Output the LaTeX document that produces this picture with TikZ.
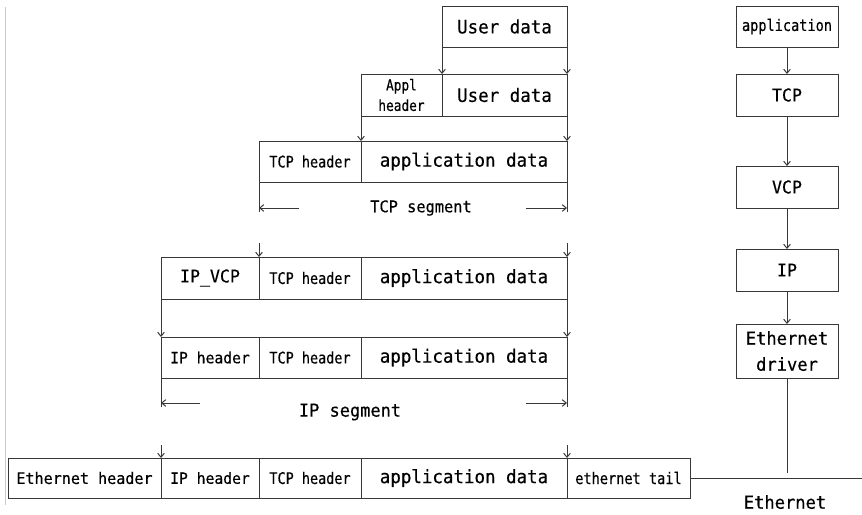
\documentclass[tikz,border=0pt]{standalone}
\usepackage{fontspec}
\usetikzlibrary{arrows.meta}
\newfontfamily\wfam[FakeStretch=0.95,FakeBold=0.4]{DejaVu Sans Mono}
\newfontfamily\nfam[FakeStretch=0.85,FakeBold=0.4]{DejaVu Sans Mono}
\tikzset{
  ln/.style={draw=black!78, line width=0.75pt},
  arr/.style={ln, -{Straight Barb[length=3pt,width=5pt]}},
  box/.style 2 args={ln, rectangle, inner sep=0pt, outer sep=0pt,
    minimum width=#1*0.75pt, minimum height=#2*0.75pt, text=black},
  wf/.style={font=\wfam\fontsize{#1}{#1}\selectfont},
  nf/.style={font=\nfam\fontsize{#1}{#1}\selectfont},
}
\begin{document}
\begin{tikzpicture}[x=0.75pt,y=-0.75pt]
\useasboundingbox (0,0) rectangle (862,514);
% faint left border
\draw[black!20, line width=0.75pt] (5,7) -- (5,505);

% ---- Row 1
\node[box={125}{41}, wf=13.8] (ud1) at (504.5,26.5) {User data};
% ---- Row 2
\node[box={81}{42}, nf=11.3, align=center] (ah) at (401.5,95) {Appl\\[4pt]header};
\node[box={125}{42}, wf=13.8] (ud2) at (504.5,95) {User data};
\draw[arr] (ud1.south west) -- (ah.north east);
\draw[arr] (ud1.south east) -- (ud2.north east);
% ---- Row 3
\node[box={102}{41}, nf=11.9] (th1) at (310,161.5) {TCP header};
\node[box={206}{41}, wf=13.8] (ad1) at (464,161.5) {application data};
\draw[arr] (ah.south west) -- (th1.north east);
\draw[arr] (ud2.south east) -- (ad1.north east);
% TCP segment
\coordinate (ts1) at (259,212);
\coordinate (ts2) at (567,212);
\coordinate (ta1) at (299,208);
\coordinate (ta2) at (526,208);
\coordinate (tb1) at (259,208);
\coordinate (tb2) at (567,208);
\draw[ln] (th1.south west) -- (ts1);
\draw[ln] (ad1.south east) -- (ts2);
\draw[arr] (ta1) -- (tb1);
\draw[arr] (ta2) -- (tb2);
\node[wf=12.1, text=black] (tseg) at (421,208) {TCP segment};

% ---- Row 4
\node[box={98}{42}, wf=13.1] (ipv) at (210,278) {IP\_VCP};
\node[box={102}{42}, nf=11.9] (th2) at (310,278) {TCP header};
\node[box={206}{42}, wf=13.8] (ad2) at (464,278) {application data};
\coordinate (r4a) at (259,243);
\coordinate (r4b) at (567,243);
\draw[arr] (r4a) -- (ipv.north east);
\draw[arr] (r4b) -- (ad2.north east);
% ---- Row 5
\node[box={98}{41}, wf=11.6] (iph1) at (210,357.5) {IP header};
\node[box={102}{41}, nf=11.9] (th3) at (310,357.5) {TCP header};
\node[box={206}{41}, wf=13.8] (ad3) at (464,357.5) {application data};
\draw[arr] (ipv.south west) -- (iph1.north west);
\draw[arr] (ad2.south east) -- (ad3.north east);
% IP segment
\coordinate (is1) at (161,407);
\coordinate (is2) at (567,407);
\coordinate (ia1) at (200,403);
\coordinate (ia2) at (526,403);
\coordinate (ib1) at (161,403);
\coordinate (ib2) at (567,403);
\draw[ln] (iph1.south west) -- (is1);
\draw[ln] (ad3.south east) -- (is2);
\draw[arr] (ia1) -- (ib1);
\draw[arr] (ia2) -- (ib2);
\node[wf=13.4, text=black] (iseg) at (350,412) {IP segment};

% ---- Row 6
\node[box={153}{40}, wf=11.9] (eh) at (84.5,478) {Ethernet header};
\node[box={98}{40}, wf=11.6] (iph2) at (210,478) {IP header};
\node[box={102}{40}, nf=11.9] (th4) at (310,478) {TCP header};
\node[box={206}{40}, wf=13.8] (ad4) at (464,478) {application data};
\node[box={123}{40}, nf=12] (et) at (628.5,478) {ethernet tail};
\coordinate (r6a) at (161,445);
\coordinate (r6b) at (567,445);
\draw[arr] (r6a) -- (eh.north east);
\draw[arr] (r6b) -- (ad4.north east);

% ---- Right column
\node[box={102}{41}, nf=12] (app) at (787,26.5) {application};
\node[box={102}{42}, wf=13.1] (tcp) at (787,95) {TCP};
\node[box={102}{42}, wf=13.1] (vcp) at (787,187) {VCP};
\node[box={102}{42}, wf=13.1] (ip) at (787,270) {IP};
\node[box={102}{54}, wf=13.5, align=center] (drv) at (787,351) {Ethernet\\[6pt]driver};
\draw[arr] (app) -- (tcp);
\draw[arr] (tcp) -- (vcp);
\draw[arr] (vcp) -- (ip);
\draw[arr] (ip) -- (drv);
\coordinate (drvend) at (787,473);
\draw[ln] (drv) -- (drvend);
\coordinate (netend) at (862,478);
\draw[ln] (et.east) -- (netend);
\node[wf=13.5, text=black] (eth) at (785,502) {Ethernet};
\end{tikzpicture}
\end{document}
